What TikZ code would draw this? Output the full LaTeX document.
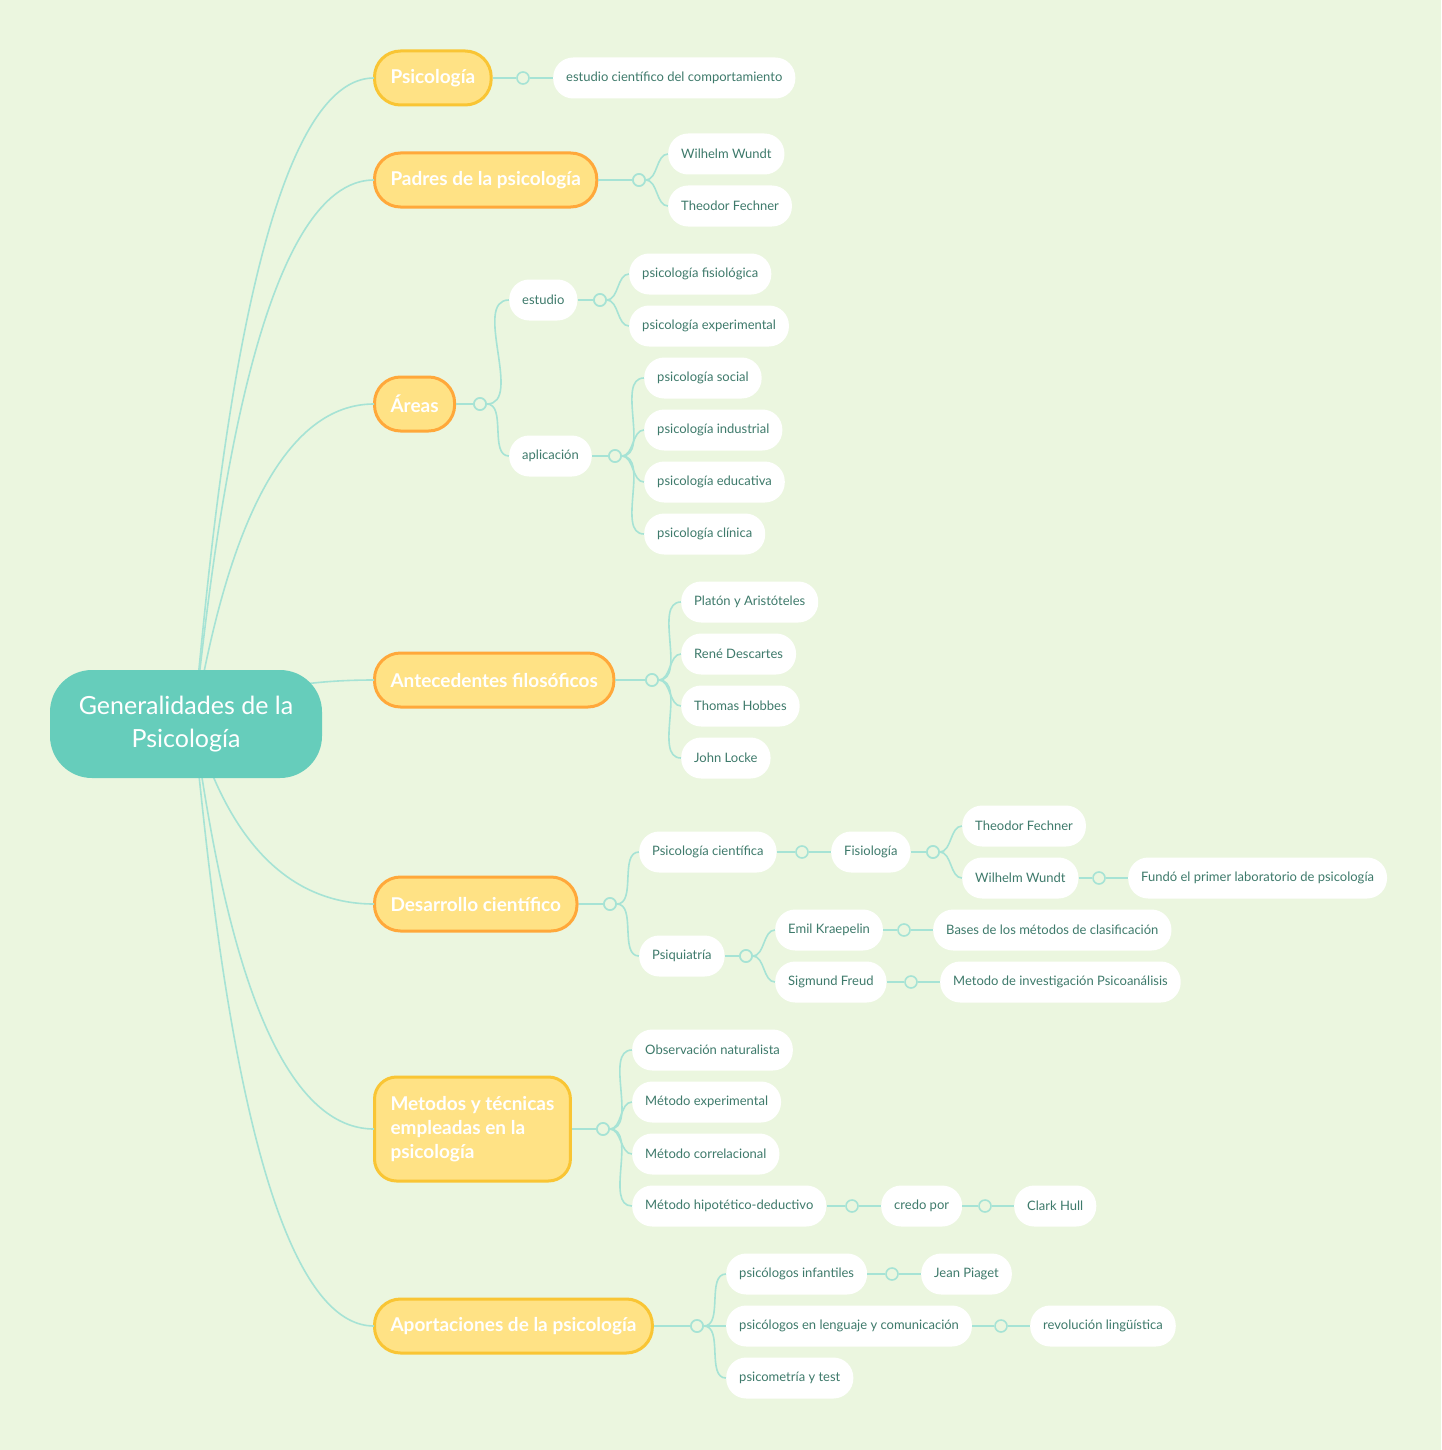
\documentclass[tikz,border=0pt]{standalone}
\usepackage{fontspec}
\setmainfont{Lato}
\definecolor{bg}{HTML}{EBF6DF}
\definecolor{ln}{HTML}{A6E3D5}
\definecolor{ctr}{HTML}{66CDBB}
\definecolor{mfill}{HTML}{FFE285}
\definecolor{yb}{HTML}{F9C534}
\definecolor{ob}{HTML}{FFA83A}
\definecolor{tx}{HTML}{3E7A6B}
\tikzset{
  ln/.style={draw=ln, line width=1.6pt},
  leaf/.style={anchor=west, fill=white, rounded corners=20pt, minimum height=41pt, inner xsep=13pt, text=tx, font=\fontsize{13}{15}\selectfont},
  mainn/.style={anchor=west, fill=mfill, line width=3pt, rounded corners=26pt, minimum height=54pt, inner xsep=16pt, text=white, font=\fontsize{19}{24}\bfseries\selectfont},
  ym/.style={mainn, draw=yb},
  om/.style={mainn, draw=ob},
  dotc/.style={circle, draw=ln, line width=1.6pt, fill=bg, minimum size=12pt, inner sep=0pt},
  brl/.style={ln}
}
\newcommand{\brto}[2]{\draw[ln] (#1) to[out=0,in=180,looseness=0.9] (#2.west);}
\begin{document}
\begin{tikzpicture}[x=1pt,y=-1pt]
\fill[bg] (0,0) rectangle (1441,1450);
\useasboundingbox (0,0) rectangle (1441,1450);
% main nodes
\node[ym] (m1) at (373,78) {Psicología};
\node[om] (m2) at (373,180) {Padres de la psicología};
\node[om] (m3) at (373,404) {Áreas};
\node[om] (m4) at (373,680) {Antecedentes filosóficos};
\node[om] (m5) at (373,904) {Desarrollo científico};
\node[ym, minimum height=104pt, align=left, rounded corners=22pt] (m6) at (373,1129) {Metodos y técnicas\\empleadas en la\\psicología};
\node[ym] (m7) at (373,1326) {Aportaciones de la psicología};
\coordinate (c0) at (192,724);
\foreach \m in {m1,m2,m3,m4,m5,m6,m7}{
  \draw[ln] (c0) .. controls (200,724) and (230,0|-\m.west) .. ([xshift=1pt]\m.west);
}
\node[fill=ctr, rounded corners=42pt, minimum width=272pt, minimum height=108pt, text=white, align=center, font=\fontsize{25}{33}\selectfont] (c) at (186,724) {Generalidades de la\\Psicología};
% Psicologia
\node[dotc] (d1) at (523,78) {};
\node[leaf] (l11) at (553,78) {estudio científico del comportamiento};
\draw[ln] (m1.east) -- (d1) -- (l11.west);
% Padres
\node[dotc] (d2) at (639,180) {};
\node[leaf] (l21) at (668,154) {Wilhelm Wundt};
\node[leaf] (l22) at (668,206) {Theodor Fechner};
\draw[ln] (m2.east) -- (d2);
\foreach \l in {l21,l22} \brto{d2}{\l};
% Areas
\node[dotc] (d3) at (480,404) {};
\node[leaf] (e) at (509,300) {estudio};
\node[leaf] (a) at (509,456) {aplicación};
\draw[ln] (m3.east) -- (d3);
\foreach \l in {e,a} \brto{d3}{\l};
\node[dotc] (de) at (600,300) {};
\node[leaf] (e1) at (629,274) {psicología fisiológica};
\node[leaf] (e2) at (629,326) {psicología experimental};
\draw[ln] (e.east) -- (de);
\foreach \l in {e1,e2} \brto{de}{\l};
\node[dotc] (da) at (615,456) {};
\node[leaf] (a1) at (644,378) {psicología social};
\node[leaf] (a2) at (644,430) {psicología industrial};
\node[leaf] (a3) at (644,482) {psicología educativa};
\node[leaf] (a4) at (644,534) {psicología clínica};
\draw[ln] (a.east) -- (da);
\foreach \l in {a1,a2,a3,a4} \brto{da}{\l};
% Antecedentes
\node[dotc] (d4) at (652,680) {};
\node[leaf] (p1) at (681,602) {Platón y Aristóteles};
\node[leaf] (p2) at (681,654) {René Descartes};
\node[leaf] (p3) at (681,706) {Thomas Hobbes};
\node[leaf] (p4) at (681,758) {John Locke};
\draw[ln] (m4.east) -- (d4);
\foreach \l in {p1,p2,p3,p4} \brto{d4}{\l};
% Desarrollo
\node[dotc] (d5) at (610,904) {};
\node[leaf] (pc) at (639,852) {Psicología científica};
\node[leaf] (ps) at (639,956) {Psiquiatría};
\draw[ln] (m5.east) -- (d5);
\foreach \l in {pc,ps} \brto{d5}{\l};
\node[dotc] (dpc) at (802,852) {};
\node[leaf] (fi) at (831,852) {Fisiología};
\draw[ln] (pc.east) -- (dpc) -- (fi.west);
\node[dotc] (dfi) at (933,852) {};
\node[leaf] (tf) at (962,826) {Theodor Fechner};
\node[leaf] (ww) at (962,878) {Wilhelm Wundt};
\draw[ln] (fi.east) -- (dfi);
\foreach \l in {tf,ww} \brto{dfi}{\l};
\node[dotc] (dww) at (1099,878) {};
\node[leaf] (fu) at (1128,878) {Fundó el primer laboratorio de psicología};
\draw[ln] (ww.east) -- (dww) -- (fu.west);
\node[dotc] (dps) at (746,956) {};
\node[leaf] (ek) at (775,930) {Emil Kraepelin};
\node[leaf] (sf) at (775,982) {Sigmund Freud};
\draw[ln] (ps.east) -- (dps);
\foreach \l in {ek,sf} \brto{dps}{\l};
\node[dotc] (dek) at (904,930) {};
\node[leaf] (ba) at (933,930) {Bases de los métodos de clasificación};
\draw[ln] (ek.east) -- (dek) -- (ba.west);
\node[dotc] (dsf) at (911,982) {};
\node[leaf] (mi) at (940,982) {Metodo de investigación Psicoanálisis};
\draw[ln] (sf.east) -- (dsf) -- (mi.west);
% Metodos
\node[dotc] (d6) at (603,1129) {};
\node[leaf] (o1) at (632,1050) {Observación naturalista};
\node[leaf] (o2) at (632,1102) {Método experimental};
\node[leaf] (o3) at (632,1154) {Método correlacional};
\node[leaf] (o4) at (632,1206) {Método hipotético-deductivo};
\draw[ln] (m6.east) -- (d6);
\foreach \l in {o1,o2,o3,o4} \brto{d6}{\l};
\node[dotc] (do4) at (852,1206) {};
\node[leaf] (cp) at (881,1206) {credo por};
\draw[ln] (o4.east) -- (do4) -- (cp.west);
\node[dotc] (dcp) at (985,1206) {};
\node[leaf] (ch) at (1014,1206) {Clark Hull};
\draw[ln] (cp.east) -- (dcp) -- (ch.west);
% Aportaciones
\node[dotc] (d7) at (697,1326) {};
\node[leaf] (q1) at (726,1274) {psicólogos infantiles};
\node[leaf] (q2) at (726,1326) {psicólogos en lenguaje y comunicación};
\node[leaf] (q3) at (726,1378) {psicometría y test};
\draw[ln] (m7.east) -- (d7);
\foreach \l in {q1,q2,q3} \brto{d7}{\l};
\node[dotc] (dq1) at (892,1274) {};
\node[leaf] (jp) at (921,1274) {Jean Piaget};
\draw[ln] (q1.east) -- (dq1) -- (jp.west);
\node[dotc] (dq2) at (1001,1326) {};
\node[leaf] (rl) at (1030,1326) {revolución lingüística};
\draw[ln] (q2.east) -- (dq2) -- (rl.west);
% redraw dots on top of branches
\foreach \d in {d2,d3,de,da,d4,d5,dfi,dps,d6,d7}{\node[dotc] at (\d) {};}
\end{tikzpicture}
\end{document}
